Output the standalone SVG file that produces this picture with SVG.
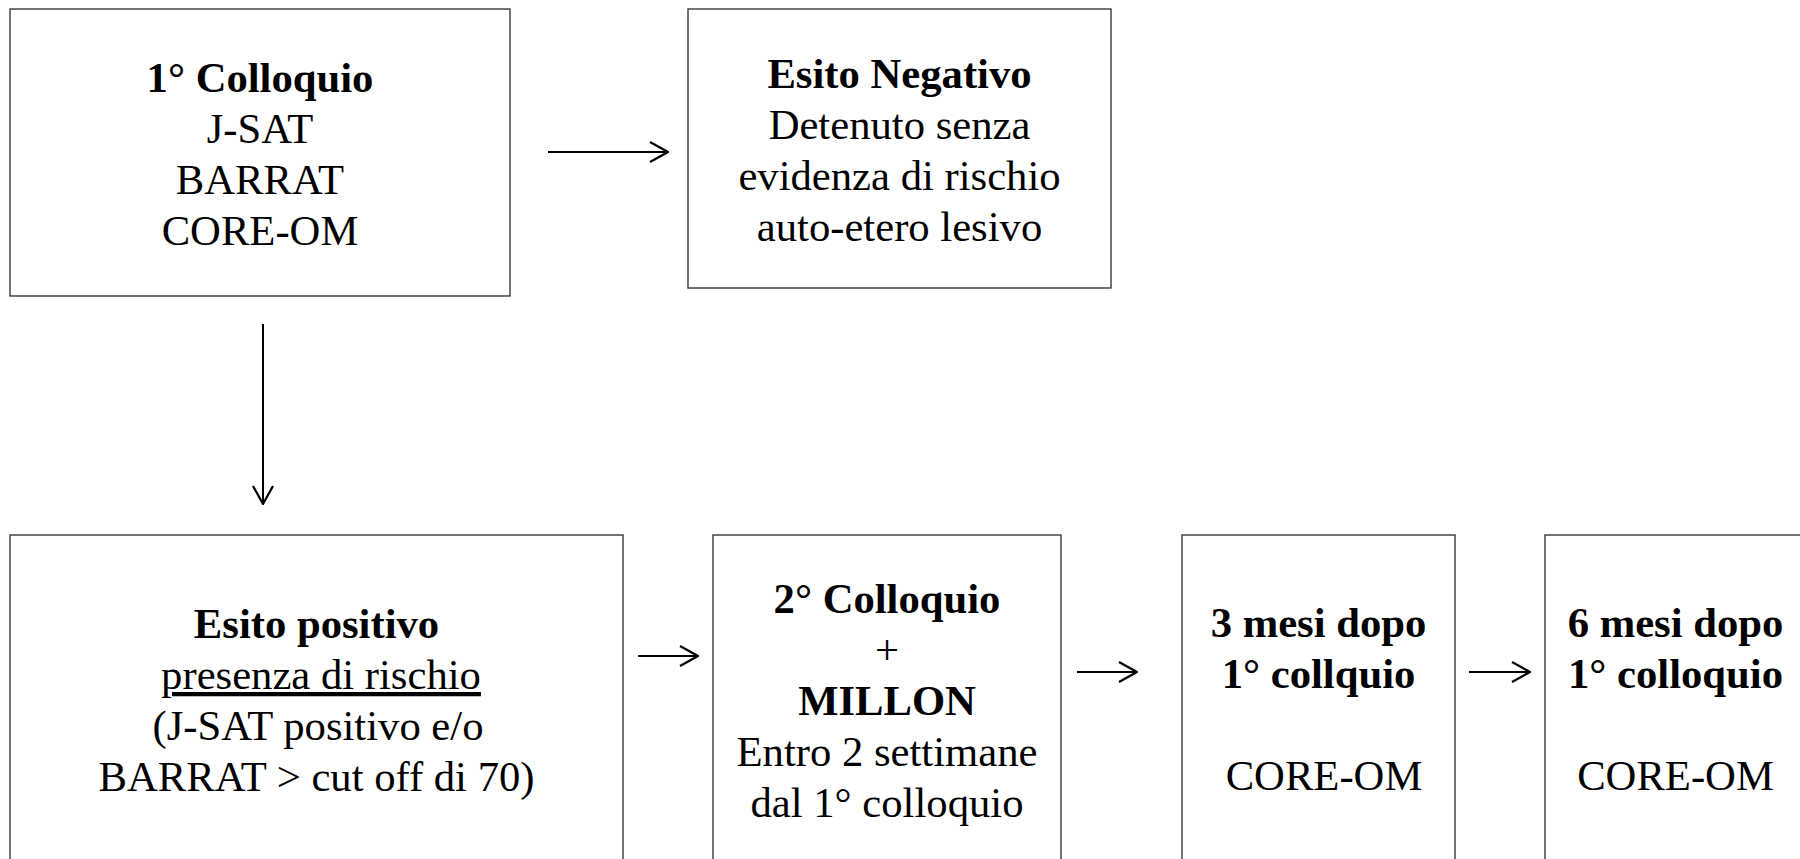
<svg xmlns="http://www.w3.org/2000/svg" width="1800" height="859" viewBox="0 0 1800 859">
<defs>
<style>
.box{fill:#fff;stroke:#3a3a3a;stroke-width:1.4}
.t{font-family:"Liberation Serif","Times New Roman",serif;font-size:42.67px;fill:#000;text-anchor:middle}
.b{font-weight:bold}
.u{text-decoration:underline}
.c{stroke:#000;stroke-width:2;fill:none}
</style>
<marker id="ah" viewBox="0 0 20 22" refX="19" refY="11" markerWidth="20" markerHeight="22" markerUnits="userSpaceOnUse" orient="auto">
<path d="M1,1 L19,11 L1,21" fill="none" stroke="#000" stroke-width="2.2"/>
</marker>
</defs>
<rect width="1800" height="859" fill="#fff"/>
<g id="connectors">
<line class="c" x1="548" y1="152" x2="668" y2="152" marker-end="url(#ah)"/>
<line class="c" x1="263" y1="324" x2="263" y2="504" marker-end="url(#ah)"/>
<line class="c" x1="638" y1="656" x2="698" y2="656" marker-end="url(#ah)"/>
<line class="c" x1="1077" y1="672" x2="1137" y2="672" marker-end="url(#ah)"/>
<line class="c" x1="1469" y1="672" x2="1530" y2="672" marker-end="url(#ah)"/>
</g>
<g id="n1">
<rect class="box" x="10" y="9" width="500" height="287"/>
<text class="t b" x="260" y="92">1° Colloquio</text>
<text class="t" x="260" y="143">J-SAT</text>
<text class="t" x="260" y="194">BARRAT</text>
<text class="t" x="260" y="245">CORE-OM</text>
</g>
<g id="n2">
<rect class="box" x="688" y="9" width="423" height="279"/>
<text class="t b" x="899.5" y="88">Esito Negativo</text>
<text class="t" x="899.5" y="139">Detenuto senza</text>
<text class="t" x="899.5" y="190">evidenza di rischio</text>
<text class="t" x="899.5" y="241">auto-etero lesivo</text>
</g>
<g id="n3">
<rect class="box" x="10" y="535" width="613" height="345"/>
<text class="t b" x="316.5" y="638">Esito positivo</text>
<text class="t u" x="321" y="689">presenza di rischio</text>
<text class="t" x="318" y="740">(J-SAT positivo e/o</text>
<text class="t" x="316.5" y="791">BARRAT &gt; cut off di 70)</text>
</g>
<g id="n4">
<rect class="box" x="713" y="535" width="348" height="345"/>
<text class="t b" x="887" y="613">2° Colloquio</text>
<text class="t" x="887" y="664">+</text>
<text class="t b" x="887" y="715">MILLON</text>
<text class="t" x="887" y="766">Entro 2 settimane</text>
<text class="t" x="887" y="817">dal 1° colloquio</text>
</g>
<g id="n5">
<rect class="box" x="1182" y="535" width="273" height="345"/>
<text class="t b" x="1318.5" y="637">3 mesi dopo</text>
<text class="t b" x="1318.5" y="688">1° collquio</text>
<text class="t" x="1324" y="790">CORE-OM</text>
</g>
<g id="n6">
<rect class="box" x="1545" y="535" width="262" height="345"/>
<text class="t b" x="1675.5" y="637">6 mesi dopo</text>
<text class="t b" x="1675.5" y="688">1° colloquio</text>
<text class="t" x="1675.5" y="790">CORE-OM</text>
</g>
</svg>
